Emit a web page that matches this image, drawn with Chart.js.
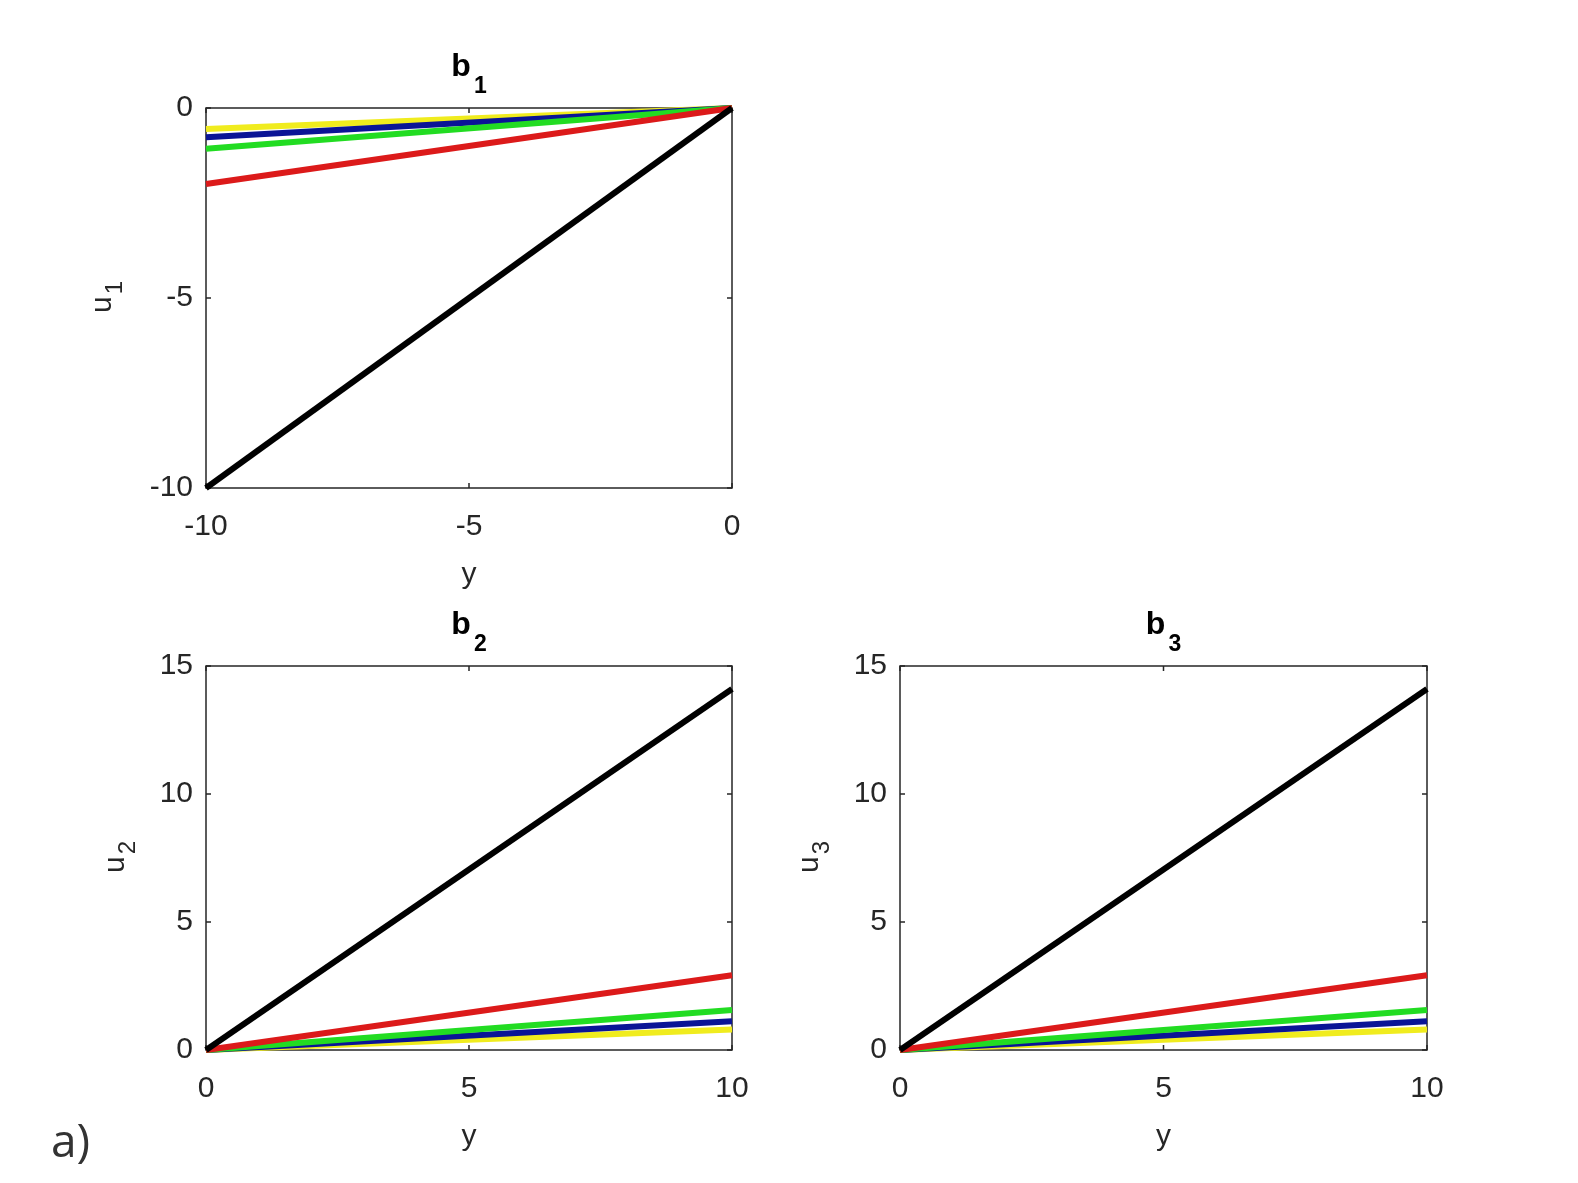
<!DOCTYPE html>
<html>
<head>
<meta charset="utf-8">
<script src="https://cdn.jsdelivr.net/npm/chart.js@4"></script>
<style>
  html, body { margin: 0; padding: 0; background: #fff; }
  #wrap { position: relative; width: 1578px; height: 1183px; overflow: hidden; }
  #wrap canvas { position: absolute; left: 0; top: 0; }
  #tag {
    position: absolute; left: 51px; top: 1108px;
    font: 46px "Open Sans", "Noto Sans", sans-serif; color: #333;
  }
</style>
</head>
<body>
<div id="wrap">
  <canvas id="c1" width="1578" height="1183"></canvas>
  <canvas id="c2" width="1578" height="1183"></canvas>
  <canvas id="c3" width="1578" height="1183"></canvas>
  <div id="tag">a)</div>
</div>
<script>
(() => {
  'use strict';

  // --- data ---
  const yNeg = [-10, 0];           // b1 abscissa
  const yPos = [0, 10];            // b2, b3 abscissa
  const b1Ticks = [-10, -5, 0];
  const b2xTicks = [0, 5, 10];
  const b2yTicks = [0, 5, 10, 15];

  // u values at the two abscissa points, one array per curve
  const u1Black  = [-10, 0];
  const u1Red    = [-2.0, 0];
  const u1Green  = [-1.07, 0];
  const u1Blue   = [-0.77, 0];
  const u1Yellow = [-0.55, 0];

  const u2Black  = [0, 14.1];
  const u2Red    = [0, 2.92];
  const u2Green  = [0, 1.56];
  const u2Blue   = [0, 1.12];
  const u2Yellow = [0, 0.8];

  const u3Black  = [0, 14.1];
  const u3Red    = [0, 2.92];
  const u3Green  = [0, 1.56];
  const u3Blue   = [0, 1.12];
  const u3Yellow = [0, 0.8];

  const lineColors = ['#000000', '#dc1a1a', '#22dc22', '#0a1496', '#f0ec1e'];

  const FONT = '"Liberation Sans", Arial, sans-serif';
  const AXIS = '#262626';
  const W = 1578, H = 1183;

  // box, inward ticks on all four sides, title and axis labels with subscripts
  const frame = {
    id: 'frame',
    beforeDatasetsDraw(chart) {
      const { ctx, chartArea: a, scales: { x, y } } = chart;
      ctx.save();
      ctx.strokeStyle = AXIS;
      ctx.lineWidth = 1.5;
      ctx.strokeRect(a.left, a.top, a.width, a.height);
      ctx.beginPath();
      x.ticks.forEach(t => {
        const p = x.getPixelForValue(t.value);
        ctx.moveTo(p, a.bottom); ctx.lineTo(p, a.bottom - 5);
        ctx.moveTo(p, a.top);    ctx.lineTo(p, a.top + 5);
      });
      y.ticks.forEach(t => {
        const p = y.getPixelForValue(t.value);
        ctx.moveTo(a.left, p);  ctx.lineTo(a.left + 5, p);
        ctx.moveTo(a.right, p); ctx.lineTo(a.right - 5, p);
      });
      ctx.stroke();
      ctx.restore();
    },
    afterDraw(chart, args, o) {
      const { ctx, chartArea: a } = chart;
      const cx = (a.left + a.right) / 2;
      ctx.save();
      ctx.textBaseline = 'alphabetic';

      // title "b" with subscript
      ctx.fillStyle = '#000';
      ctx.font = `bold 32px ${FONT}`;
      const wMain = ctx.measureText(o.title).width;
      ctx.font = `bold 23px ${FONT}`;
      const wSub = ctx.measureText(o.sub).width;
      const tx = cx - (wMain + wSub + 3) / 2;
      ctx.textAlign = 'left';
      ctx.font = `bold 32px ${FONT}`;
      ctx.fillText(o.title, tx, a.top - 32);
      ctx.font = `bold 23px ${FONT}`;
      ctx.fillText(o.sub, tx + wMain + 3, a.top - 15);

      // x label
      ctx.fillStyle = AXIS;
      ctx.font = `30px ${FONT}`;
      ctx.textAlign = 'center';
      ctx.fillText('y', cx, a.bottom + 95);

      // y label, rotated, with subscript
      const cy = (a.top + a.bottom) / 2;
      ctx.translate(a.left - o.ylabOffset, cy);
      ctx.rotate(-Math.PI / 2);
      ctx.textAlign = 'left';
      const wu = ctx.measureText('u').width;
      ctx.font = `24px ${FONT}`;
      const ws = ctx.measureText(o.ysub).width;
      const sx = -(wu + ws) / 2;
      ctx.font = `30px ${FONT}`;
      ctx.fillText('u', sx, 0);
      ctx.font = `24px ${FONT}`;
      ctx.fillText(o.ysub, sx + wu + 2, 11);
      ctx.restore();
    }
  };

  function makePanel(id, xs, curves, xr, yr, pad, labels) {
    const datasets = curves.map((vals, i) => ({
      data: xs.map((xv, k) => ({ x: xv, y: vals[k] })),
      borderColor: lineColors[i],
      borderWidth: 6,
      pointRadius: 0,
      fill: false,
      clip: false,
      tension: 0
    }));
    const tickFont = { family: FONT, size: 30 };
    return new Chart(document.getElementById(id), {
      type: 'line',
      data: { datasets },
      plugins: [frame],
      options: {
        responsive: false,
        animation: false,
        events: [],
        layout: { padding: pad },
        plugins: {
          legend: { display: false },
          tooltip: { enabled: false },
          frame: labels
        },
        scales: {
          x: {
            type: 'linear', min: xr[0], max: xr[1],
            afterBuildTicks: s => { s.ticks = xr[2].map(v => ({ value: v })); },
            afterFit: s => { s.height = 60; },
            grid: { display: false, drawTicks: false },
            border: { display: false },
            ticks: { color: AXIS, font: tickFont, padding: 21, maxRotation: 0, autoSkip: false }
          },
          y: {
            type: 'linear', min: yr[0], max: yr[1],
            afterBuildTicks: s => { s.ticks = yr[2].map(v => ({ value: v })); },
            afterFit: s => { s.width = 70; },
            grid: { display: false, drawTicks: false },
            border: { display: false },
            ticks: { color: AXIS, font: tickFont, padding: 13, autoSkip: false }
          }
        }
      }
    });
  }

  // plot areas: b1 [206..732]x[108..488], b2 [206..732]x[666..1050], b3 [900..1427]x[666..1050]
  makePanel('c1', yNeg, [u1Black, u1Red, u1Green, u1Blue, u1Yellow],
    [-10, 0, b1Ticks], [-10, 0, b1Ticks],
    { left: 206 - 70, right: W - 732, top: 108, bottom: H - 488 - 60 },
    { title: 'b', sub: '1', ysub: '1', ylabOffset: 95 });

  makePanel('c2', yPos, [u2Black, u2Red, u2Green, u2Blue, u2Yellow],
    [0, 10, b2xTicks], [0, 15, b2yTicks],
    { left: 206 - 70, right: W - 732, top: 666, bottom: H - 1050 - 60 },
    { title: 'b', sub: '2', ysub: '2', ylabOffset: 82 });

  makePanel('c3', yPos, [u3Black, u3Red, u3Green, u3Blue, u3Yellow],
    [0, 10, b2xTicks], [0, 15, b2yTicks],
    { left: 900 - 70, right: W - 1427, top: 666, bottom: H - 1050 - 60 },
    { title: 'b', sub: '3', ysub: '3', ylabOffset: 82 });
})();
</script>
</body>
</html>
